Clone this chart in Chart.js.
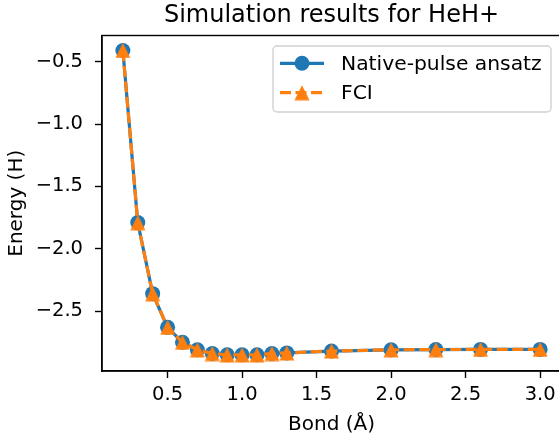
<!DOCTYPE html>
<html>
<head>
<meta charset="utf-8">
<script src="https://cdn.jsdelivr.net/npm/chart.js@4/dist/chart.umd.min.js"></script>
<style>
  html, body { margin: 0; padding: 0; background: #fff; overflow: hidden; }
  #wrap { width: 575px; height: 440px; }
</style>
</head>
<body>
<div id="wrap"><canvas id="chart" width="575" height="440"></canvas></div>
<script>
// bond lengths (Å) and energies (Hartree)
const bondLengths = [0.2, 0.3, 0.4, 0.5, 0.6, 0.7, 0.8, 0.9, 1.0, 1.1, 1.2, 1.3, 1.6, 2.0, 2.3, 2.6, 3.0]
const nativePulse = [-0.41, -1.79, -2.36, -2.63, -2.75, -2.81, -2.84, -2.85, -2.85, -2.85, -2.84, -2.835, -2.82, -2.81, -2.808, -2.807, -2.807]
const fciEnergy = [-0.41, -1.79, -2.36, -2.63, -2.75, -2.81, -2.84, -2.85, -2.85, -2.85, -2.84, -2.835, -2.82, -2.81, -2.808, -2.807, -2.807]
const xTicks = [0.5, 1.0, 1.5, 2.0, 2.5, 3.0]
const yTicks = [-2.5, -2.0, -1.5, -1.0, -0.5]

const BLUE = '#1f77b4'
const ORANGE = '#ff7f0e'
const FONT = 'DejaVu Sans'

Chart.defaults.font.family = FONT
Chart.defaults.color = '#000'

// matplotlib-like '^' marker, centred on its bounding box
function triangleMarker(size, color) {
  const c = document.createElement('canvas')
  c.width = size + 1
  c.height = size + 1
  const g = c.getContext('2d')
  g.fillStyle = color
  g.beginPath()
  g.moveTo(c.width / 2, 0.5)
  g.lineTo(0.5, size + 0.5)
  g.lineTo(size + 0.5, size + 0.5)
  g.closePath()
  g.fill()
  return c
}
const triMarker = triangleMarker(15, ORANGE)

const toPoints = (ys) => bondLengths.map((x, i) => ({ x, y: ys[i] }))
const fmt = (v) => v.toFixed(1).replace('-', '\u2212')

const framePlugin = {
  id: 'frame',
  afterDatasetsDraw(chart) {
    const { ctx, chartArea: a } = chart
    ctx.save()
    ctx.strokeStyle = '#000'
    ctx.lineWidth = 1.4
    ctx.strokeRect(a.left, a.top, a.right - a.left, a.bottom - a.top)
    ctx.restore()
  },
  afterDraw(chart) {
    const { ctx } = chart
    const box = { x: 273, y: 46, w: 278, h: 66 }
    ctx.save()
    ctx.beginPath()
    ctx.roundRect(box.x, box.y, box.w, box.h, 4)
    ctx.fillStyle = 'rgba(255,255,255,0.8)'
    ctx.fill()
    ctx.strokeStyle = 'rgba(204,204,204,0.9)'
    ctx.lineWidth = 1.4
    ctx.stroke()

    const rows = [63.3, 92.7]
    chart.data.datasets.forEach((ds, i) => {
      const y = rows[i]
      ctx.beginPath()
      ctx.setLineDash(ds.borderDash || [])
      ctx.strokeStyle = ds.borderColor
      ctx.lineWidth = ds.borderWidth
      ctx.moveTo(280, y)
      ctx.lineTo(324, y)
      ctx.stroke()
      ctx.setLineDash([])
      if (ds.pointStyle === 'circle') {
        ctx.beginPath()
        ctx.arc(302, y, ds.pointRadius, 0, Math.PI * 2)
        ctx.fillStyle = ds.pointBackgroundColor
        ctx.fill()
      } else {
        ctx.drawImage(ds.pointStyle, 302 - ds.pointStyle.width / 2, y - ds.pointStyle.height / 2)
      }
      ctx.fillStyle = '#000'
      ctx.font = `20.3px "${FONT}"`
      ctx.textBaseline = 'middle'
      ctx.textAlign = 'left'
      ctx.fillText(ds.label, 341, y + 1)
    })
    ctx.restore()
  },
}

const axisGrid = {
  display: true,
  drawOnChartArea: false,
  drawTicks: true,
  tickLength: 7,
  tickColor: '#000',
  tickWidth: 1.4,
}

new Chart(document.getElementById('chart'), {
  type: 'line',
  data: {
    datasets: [
      {
        label: 'Native-pulse ansatz',
        data: toPoints(nativePulse),
        borderColor: BLUE,
        borderWidth: 3.2,
        pointStyle: 'circle',
        pointRadius: 7.5,
        pointBackgroundColor: BLUE,
        pointBorderWidth: 0,
        order: 1,
      },
      {
        label: 'FCI',
        data: toPoints(fciEnergy),
        borderColor: ORANGE,
        borderWidth: 3.2,
        borderDash: [11, 4.5],
        pointStyle: triMarker,
        pointRadius: 7.5,
        pointBackgroundColor: ORANGE,
        pointBorderWidth: 0,
        order: 0,
      },
    ],
  },
  options: {
    responsive: false,
    animation: false,
    layout: { padding: { left: 0, right: 14, top: 0, bottom: 0 } },
    elements: { line: { tension: 0 } },
    plugins: {
      legend: { display: false },
      tooltip: { enabled: false },
      title: {
        display: true,
        fullSize: false,
        text: 'Simulation results for HeH+',
        color: '#000',
        font: { family: FONT, size: 24, weight: 'normal' },
        padding: { top: 1, bottom: 5.7 },
      },
    },
    scales: {
      x: {
        type: 'linear',
        min: 0.06,
        max: 3.14,
        afterBuildTicks: (s) => { s.ticks = xTicks.map((v) => ({ value: v })) },
        afterFit: (s) => { s.height = 69 },
        grid: axisGrid,
        border: { display: true, color: '#000', width: 1.4 },
        ticks: {
          color: '#000',
          font: { family: FONT, size: 19.5 },
          padding: 5,
          maxRotation: 0,
          callback: (v) => fmt(v),
        },
        title: {
          display: true,
          text: 'Bond (Å)',
          color: '#000',
          font: { family: FONT, size: 20 },
          padding: { top: 0, bottom: 3.5 },
        },
      },
      y: {
        type: 'linear',
        min: -2.98,
        max: -0.29,
        afterBuildTicks: (s) => { s.ticks = yTicks.map((v) => ({ value: v })) },
        afterFit: (s) => { s.width = 102 },
        grid: axisGrid,
        border: { display: true, color: '#000', width: 1.4 },
        ticks: {
          color: '#000',
          font: { family: FONT, size: 19.5 },
          padding: 12,
          callback: (v) => fmt(v),
        },
        title: {
          display: true,
          text: 'Energy (H)',
          color: '#000',
          font: { family: FONT, size: 20 },
          padding: { top: 4.7, bottom: 0 },
        },
      },
    },
  },
  plugins: [framePlugin],
})
</script>
</body>
</html>
